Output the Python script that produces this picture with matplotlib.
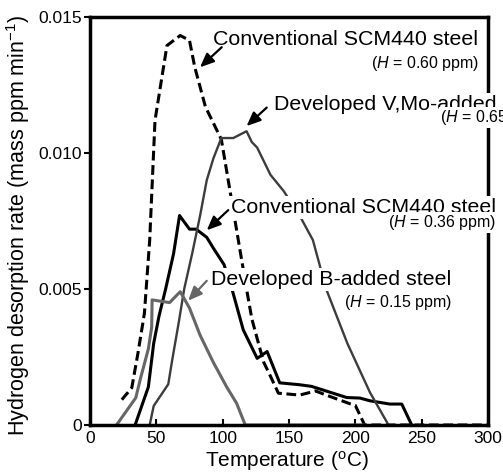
import matplotlib
matplotlib.use("Agg")
import matplotlib.pyplot as plt

plt.rcParams["font.family"] = ["Liberation Sans", "DejaVu Sans"]
plt.rcParams["mathtext.fontset"] = "custom"
plt.rcParams["mathtext.rm"] = "Liberation Sans"
plt.rcParams["mathtext.it"] = "Liberation Sans:italic"

# Conventional SCM440 steel (H = 0.60 ppm), dashed
conv60_t = [24, 31.5, 36, 41, 45, 49, 58, 68, 75, 79, 87, 99, 118, 122, 127,
            131, 135, 142, 158, 170, 178, 196, 200, 207, 300]
conv60_h = [0.00093, 0.00137, 0.0026, 0.0041, 0.0068, 0.0112, 0.01395, 0.01432,
            0.01414, 0.01315, 0.0117, 0.0105, 0.0050, 0.0039, 0.0030,
            0.0023, 0.0019, 0.00117, 0.0011, 0.00125, 0.0011, 0.00078, 0.00072, 0, 0]

# Conventional SCM440 steel (H = 0.36 ppm), solid black
conv36_t = [34, 44, 48, 52, 57, 63, 67.5, 75, 80, 88, 93, 101, 107, 115.5,
            126, 133.5, 143, 158, 167, 193.5, 203.5, 211, 226, 235, 242.5]
conv36_h = [0, 0.0014, 0.0030, 0.0040, 0.0050, 0.0063, 0.0077, 0.0072, 0.0072,
            0.0069, 0.0065, 0.0059, 0.0050, 0.0035, 0.00245, 0.0027, 0.00155,
            0.00148, 0.00142, 0.00101, 0.00099, 0.00089, 0.00077, 0.00077, 0]

# Developed V,Mo-added steel (H = 0.65 ppm), dark grey
vmo_t = [45, 48, 59, 62, 67, 71, 77, 83, 88, 93, 99, 108, 118, 122, 126,
         136, 146, 158, 168, 178, 194, 211, 225]
vmo_h = [0, 0.0007, 0.0015, 0.0024, 0.0038, 0.0050, 0.0063, 0.0077, 0.0090,
         0.0098, 0.01055, 0.01055, 0.0108, 0.0104, 0.0102, 0.0092, 0.0086,
         0.0077, 0.0068, 0.0050, 0.0030, 0.0012, 0]

# Developed B-added steel (H = 0.15 ppm), grey
badd_t = [20, 34.5, 38, 44, 46.5, 46.8, 60, 68, 75, 83, 93, 103, 110.5, 117, 206]
badd_h = [0, 0.0010, 0.0017, 0.0028, 0.0036, 0.0046, 0.0045, 0.0049, 0.0043,
          0.0033, 0.0023, 0.0014, 0.0008, 0, 0]

x_ticks = [0, 50, 100, 150, 200, 250, 300]
y_ticks = [0, 0.005, 0.010, 0.015]
y_tick_labels = ["0", "0.005", "0.010", "0.015"]

fig = plt.figure(figsize=(5.03, 4.76), dpi=100)
ax = fig.add_axes([90 / 503, 1 - 425 / 476, 398 / 503, 408 / 476])

ax.plot(conv60_t, conv60_h, color="black", lw=2.2, ls=(0, (3.2, 1.5)))
ax.plot(conv36_t, conv36_h, color="black", lw=2.2)
ax.plot(vmo_t, vmo_h, color="#3c3c3c", lw=1.7)
ax.plot(badd_t, badd_h, color="#666666", lw=2.2)

ax.set_xlim(0, 300)
ax.set_ylim(0, 0.015)
ax.set_xticks(x_ticks)
ax.set_yticks(y_ticks)
ax.set_yticklabels(y_tick_labels)
ax.tick_params(axis="x", direction="in", length=4, width=1.5, labelsize=12.5, pad=4.5)
ax.tick_params(axis="y", direction="out", length=4, width=1.5, labelsize=12.5, pad=1.5)
for s in ax.spines.values():
    s.set_linewidth(2.5)

ax.set_xlabel("Temperature ($^{\\mathrm{o}}$C)", fontsize=15)
ax.xaxis.set_label_coords(0.495, -0.058)
ax.xaxis.label.set_va("top")
ax.set_ylabel("Hydrogen desorption rate (mass ppm min$^{-1}$)", fontsize=15.5)
ax.yaxis.set_label_coords(-0.145, 0.49)


def label(x, y, main, sub, ym, ys, color="black"):
    box = dict(boxstyle="square,pad=0.08", fc="white", ec="none")
    ax.text(x, ym, main, ha="right", va="baseline", fontsize=15.4,
            bbox=box, zorder=6)
    ax.text(x + 0.5, ys, sub, ha="right", va="baseline", fontsize=11.5,
            bbox=box, zorder=6)


def arrow(tip, tail, color="black"):
    ax.annotate("", xy=tip, xytext=tail, zorder=7,
                arrowprops=dict(arrowstyle="-|>,head_length=0.7,head_width=0.3",
                                color=color, lw=1.6, shrinkA=0, shrinkB=0,
                                mutation_scale=12))


label(292.5, 0, "Conventional SCM440 steel", "($\\mathit{H}$ = 0.60 ppm)", 0.01397, 0.01312)
label(345.2, 0, "Developed V,Mo-added steel", "($\\mathit{H}$ = 0.65 ppm)", 0.01158, 0.01114)
label(306.0, 0, "Conventional SCM440 steel", "($\\mathit{H}$ = 0.36 ppm)", 0.00779, 0.00728)
label(272.6, 0, "Developed B-added steel", "($\\mathit{H}$ = 0.15 ppm)", 0.00515, 0.00434)

arrow((82.9, 0.01315), (99.3, 0.01389))
arrow((118.0, 0.01099), (133.2, 0.01167))
arrow((88.0, 0.00716), (104.2, 0.0079))
arrow((74.0, 0.00457), (88.0, 0.0053), color="#666666")

fig.savefig("out.png", dpi=100)
